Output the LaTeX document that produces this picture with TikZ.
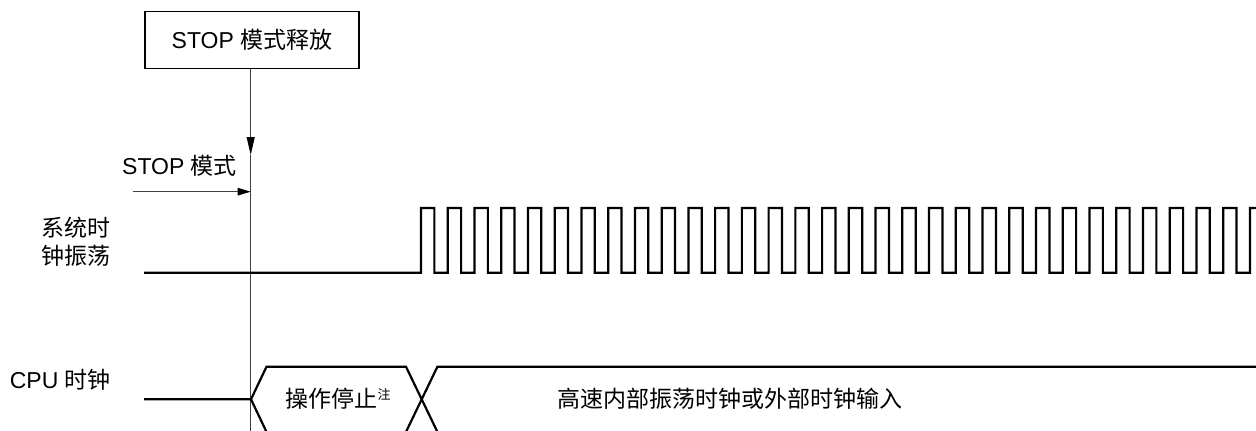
\documentclass[tikz,border=0pt]{standalone}
\usepackage{fontspec}
\setmainfont{Liberation Sans}
\newfontfamily\cjk{Noto Sans CJK SC}
\usetikzlibrary{arrows.meta}
\tikzset{
  lbl/.style={inner sep=0pt, font=\fontsize{23}{28}\selectfont},
  sig/.style={line width=2.2pt, line join=miter},
  guide/.style={line width=0.9pt, draw=black!75},
  arr/.style={-{Triangle[length=13pt,width=7.5pt,color=black]}, line width=0.9pt, draw=black!75},
  arrv/.style={-{Triangle[length=18pt,width=8pt,color=black]}, line width=0.9pt, draw=black!75},
  relbox/.style={draw, line width=1.2pt, minimum width=214pt, minimum height=57pt, inner sep=0pt, font=\fontsize{23}{28}\selectfont}
}
\begin{document}
\begin{tikzpicture}[x=1pt,y=-1pt]
\useasboundingbox[fill=white] (0,0) rectangle (1256,431);

% release box and guide line
\node[relbox] (rel) at (252,39.7) {STOP {\cjk 模式释放}};
\coordinate (vt) at (250.7,155);
\coordinate (vb) at (250.7,440);
\draw[arrv] (rel.south -| vt) -- (vt);
\draw[guide] (vt) -- (vb);

% STOP mode label and arrow
\node[lbl, anchor=east] (stop) at (237,166) {STOP {\cjk 模式}};
\coordinate (hs) at (133,191.7);
\coordinate (he) at (250.7,191.7);
\draw[arr] (hs) -- (he);

% labels
\node[lbl, anchor=east, align=right] (sysl) at (111,242) {\cjk 系统时\\\cjk 钟振荡};
\node[lbl, anchor=east] (cpul) at (111,380) {CPU {\cjk 时钟}};

% system clock waveform
\draw[sig] (144,272.7) -- (421,272.7)
  \foreach \k in {0,...,30} {
    -- ({421+26.74*\k},208) -- ({434.37+26.74*\k},208)
    -- ({434.37+26.74*\k},272.7) -- ({447.74+26.74*\k},272.7)
  }
  -- (1250,208) -- (1260,208);

% CPU clock
\draw[sig] (144,399.3) -- (251,399.3) -- (266.5,366.7) -- (406,366.7) -- (437.4,431.9);
\draw[sig] (251,399.3) -- (266.5,431.9);
\draw[sig] (406,431.9) -- (437.4,366.7) -- (1260,366.7);

\node[lbl] (opstop) at (338,399) {\cjk 操作停止\raisebox{0.38em}{\fontsize{13}{13}\selectfont 注}};
\node[lbl] (hsclk) at (730,399) {\cjk 高速内部振荡时钟或外部时钟输入};
\end{tikzpicture}
\end{document}
